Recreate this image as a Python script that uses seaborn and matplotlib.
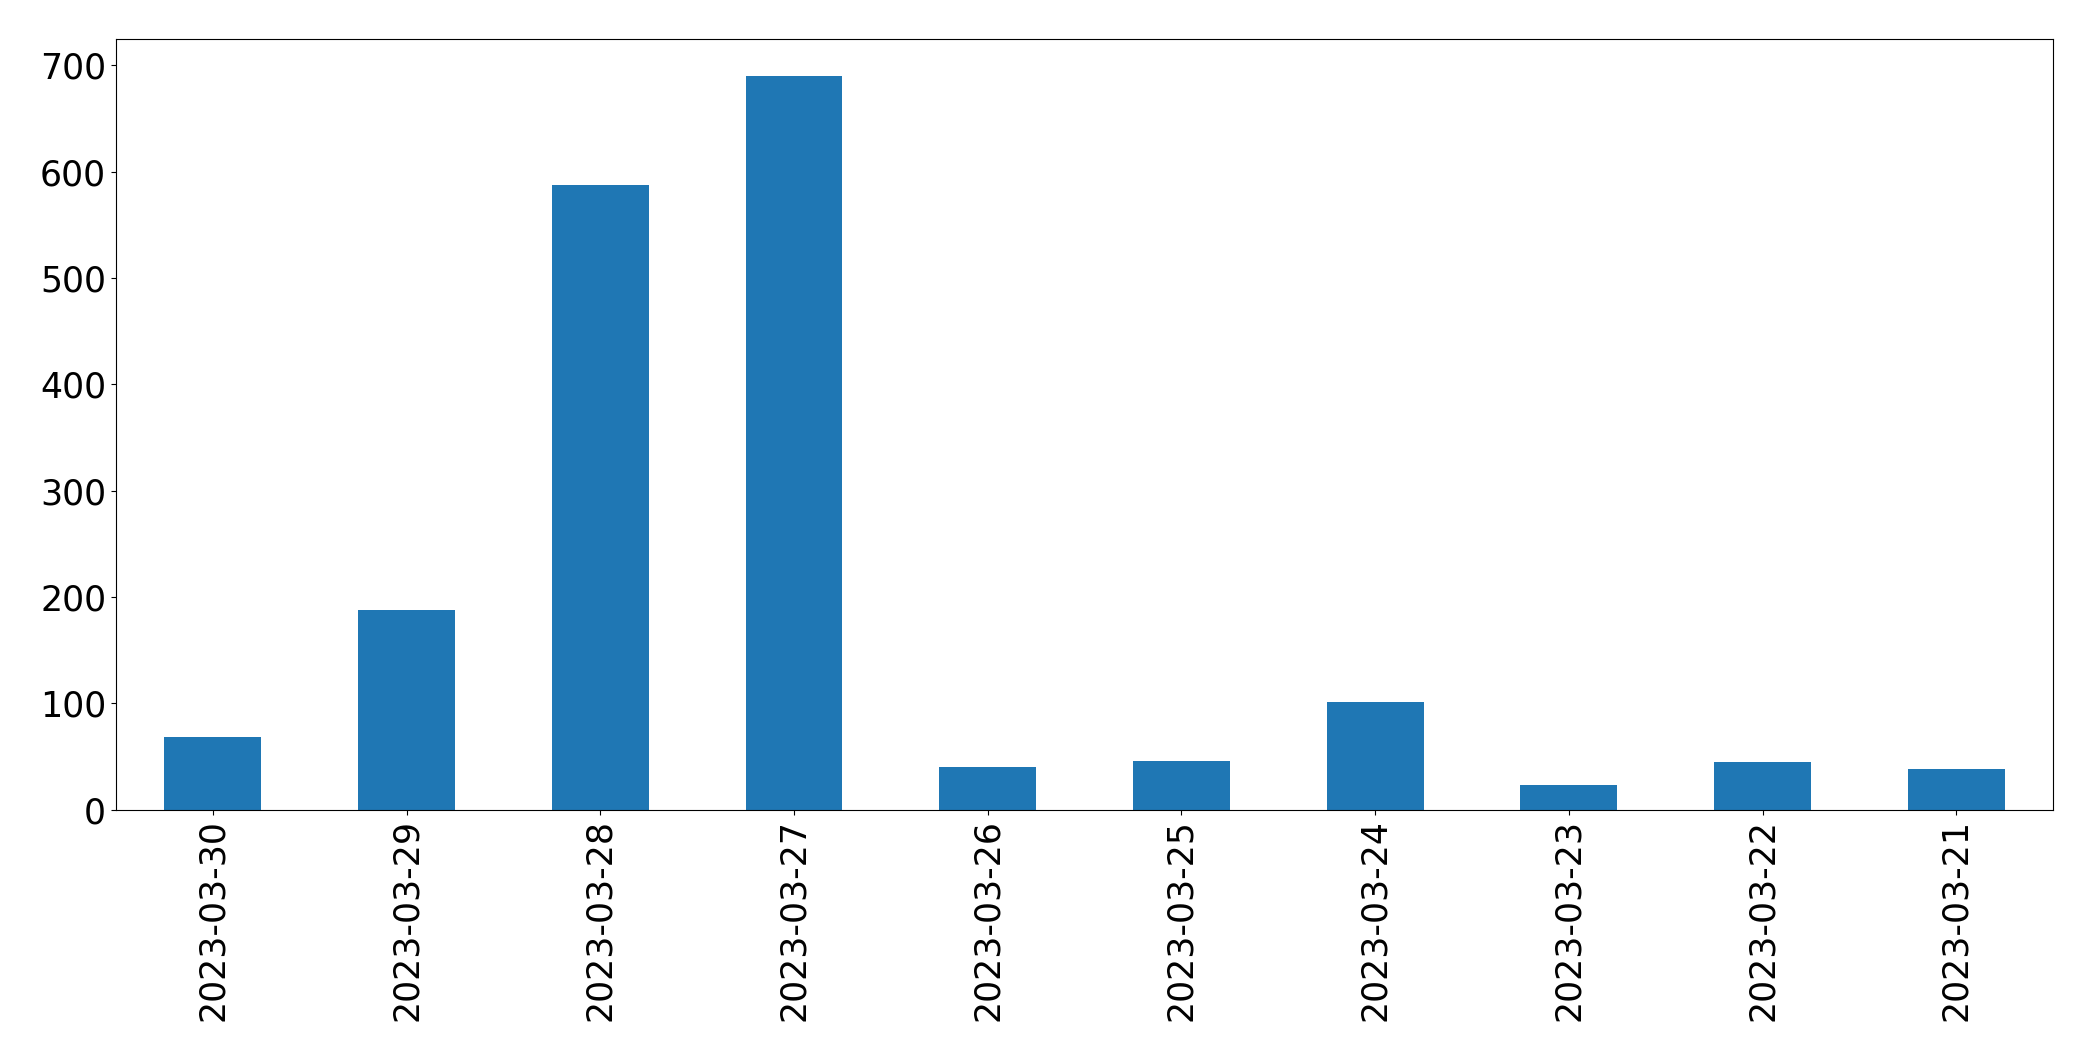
import matplotlib
matplotlib.use("Agg")
import matplotlib.pyplot as plt
import seaborn as sns
import pandas as pd

dates = ["2023-03-30", "2023-03-29", "2023-03-28", "2023-03-27", "2023-03-26",
         "2023-03-25", "2023-03-24", "2023-03-23", "2023-03-22", "2023-03-21"]
counts = [68, 188, 587, 690, 40, 46, 101, 23, 45, 38]

df = pd.DataFrame({"date": dates, "count": counts})

fig, ax = plt.subplots(figsize=(20.93, 10.61), dpi=100)
sns.barplot(data=df, x="date", y="count", order=dates, color="#1f77b4",
            saturation=1, width=0.5, ax=ax)
ax.set_xlim(-0.5, len(dates) - 0.5)
ax.margins(y=0.05)
ax.set_ylim(0, max(counts) * 1.05)
ax.set_xlabel("")
ax.set_ylabel("")
ax.tick_params(axis="both", labelsize=25)
plt.setp(ax.get_xticklabels(), rotation=90)
for s in ax.spines.values():
    s.set_visible(True)
    s.set_color("black")
fig.subplots_adjust(left=0.0554, right=0.981, top=0.963, bottom=0.237)
fig.savefig("out.png", dpi=100)
